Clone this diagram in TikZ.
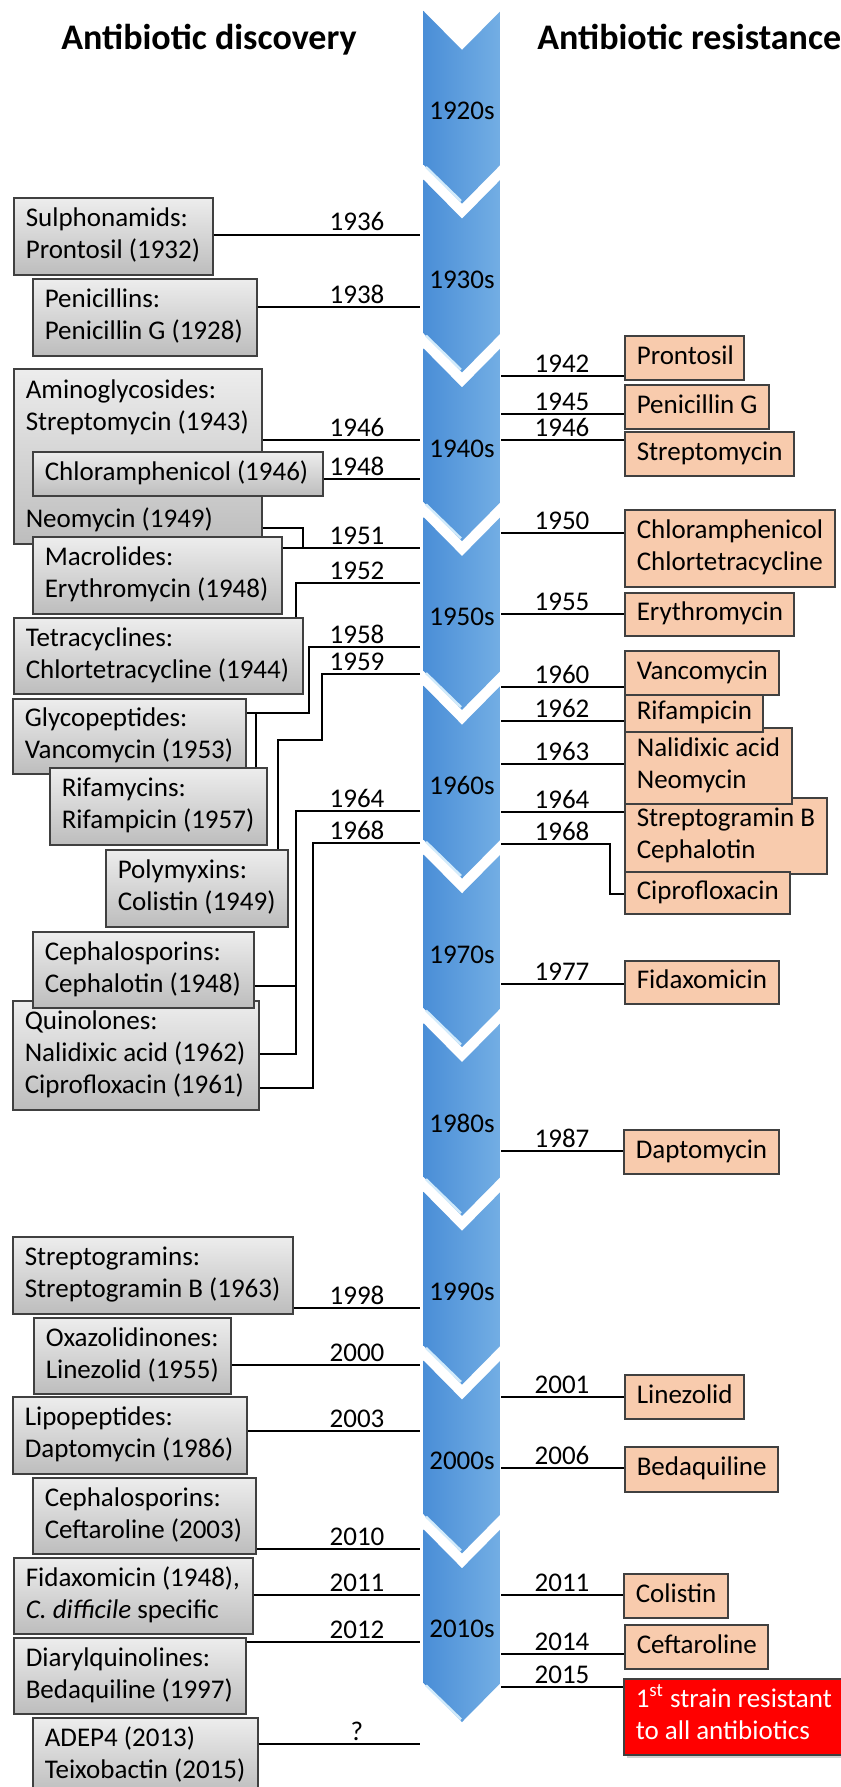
\documentclass[tikz,border=0pt]{standalone}
\usepackage{fontspec}
\setmainfont{Carlito}
\usetikzlibrary{shadows}
\definecolor{arrL}{HTML}{4A8ED7}
\definecolor{arrR}{HTML}{73AEE4}
\definecolor{bevelc}{HTML}{D2EBFB}
\definecolor{gtop}{HTML}{EDEDED}
\definecolor{gbot}{HTML}{BDBDBD}
\definecolor{orng}{HTML}{F8CBAD}
\definecolor{boxline}{HTML}{404040}
\definecolor{redbox}{HTML}{FF0000}
\newcommand{\bodyfont}{\fontsize{13.5}{16}\selectfont}
\newcommand{\hdrfont}{\fontsize{18}{22}\selectfont\bfseries}
\newcommand{\mybox}[7]{%
  \pgfmathsetmacro\mbw{(#5-#3)*0.5}%
  \pgfmathsetmacro\mbh{(#6-#4)*0.5}%
  \pgfmathsetmacro\mbt{(#5-#3)*0.5-12}%
  \node[#1, minimum width=\mbw pt, minimum height=\mbh pt] (#2) at (#3,#4) {\makebox[\mbt pt][l]{\begin{tabular}{@{}l@{}}#7\end{tabular}}};%
}
\tikzset{
  conn/.style={line width=1pt, black},
  gbox/.style={draw=boxline, line width=0.8pt, top color=gtop, bottom color=gbot, anchor=north west, inner xsep=6pt, inner ysep=0pt, font=\bodyfont},
  obox/.style={draw=boxline, line width=0.8pt, fill=orng, anchor=north west, inner xsep=6pt, inner ysep=0pt, font=\bodyfont},
  rbox/.style={draw=boxline, line width=0.8pt, fill=redbox, text=white, anchor=north west, inner xsep=6pt, inner ysep=0pt, font=\bodyfont, drop shadow={shadow xshift=1.5pt, shadow yshift=-1.5pt, opacity=0.35}},
  yr/.style={anchor=base, inner sep=0pt, font=\bodyfont},
  dec/.style={inner sep=0pt, font=\bodyfont},
  hdr/.style={anchor=base west, inner sep=0pt, font=\hdrfont},
  bevel/.style={draw=bevelc, line width=1.2pt},
}
\begin{document}
\begin{tikzpicture}[x=0.5pt, y=-0.5pt]
\useasboundingbox (0,0) rectangle (840,1787);
\fill[white] (0,0) rectangle (840,1787);

% headers
\node[hdr] (hL) at (61,50) {Antibiotic discovery};
\node[hdr] (hR) at (537,50) {Antibiotic resistance};

% chevron timeline
\foreach \i in {0,...,9}{
  \pgfmathsetmacro\T{11+168.7*\i}
  \path[left color=arrL, right color=arrR] (423.5,\T) -- (462,\T+39) -- (500.5,\T) -- (500.5,\T+153.7) -- (462,\T+192.7) -- (423.5,\T+153.7) -- cycle;
  \draw[bevel] (426,\T+156) -- (461,\T+190);
}
\foreach \i/\d in {0/1920s,1/1930s,2/1940s,3/1950s,4/1960s,5/1970s,6/1980s,7/1990s,8/2000s,9/2010s}{
  \node[dec] (dec\i) at (462,{111+168.7*\i}) {\d};
}

% ---------- left boxes (discovery) ----------
\mybox{gbox}{sulph}{13}{197}{212}{274}{Sulphonamids:\\Prontosil (1932)}
\mybox{gbox}{penic}{32}{278}{256}{355}{Penicillins:\\Penicillin G (1928)}
\mybox{gbox}{amino}{13}{368}{261}{543}{Aminoglycosides:\\Streptomycin (1943)\\[32.5pt]Neomycin (1949)}
\mybox{gbox}{chloram}{32}{451}{322}{495}{Chloramphenicol (1946)}
\mybox{gbox}{macro}{32}{536}{281}{613}{Macrolides:\\Erythromycin (1948)}
\mybox{gbox}{tetra}{13}{617}{302}{693}{Tetracyclines:\\Chlortetracycline (1944)}
\mybox{gbox}{glyco}{12}{698}{245}{773}{Glycopeptides:\\Vancomycin (1953)}
\mybox{gbox}{rifa}{49}{767}{266}{844}{Rifamycins:\\Rifampicin (1957)}
\mybox{gbox}{polym}{105}{849}{287}{926}{Polymyxins:\\Colistin (1949)}
\mybox{gbox}{quino}{12}{1000}{258}{1109}{Quinolones:\\Nalidixic acid (1962)\\Ciprofloxacin (1961)}
\mybox{gbox}{cephalo}{32}{931}{253}{1007}{Cephalosporins:\\Cephalotin (1948)}
\mybox{gbox}{strepg}{12}{1236}{292}{1313}{Streptogramins:\\Streptogramin B (1963)}
\mybox{gbox}{oxaz}{33}{1317}{230}{1393}{Oxazolidinones:\\Linezolid (1955)}
\mybox{gbox}{lipo}{12}{1396}{246}{1473}{Lipopeptides:\\Daptomycin (1986)}
\mybox{gbox}{ceftar}{32}{1477}{255}{1553}{Cephalosporins:\\Ceftaroline (2003)}
\mybox{gbox}{fidax}{13}{1557}{252}{1633}{Fidaxomicin (1948),\\\textit{C. difficile} specific}
\mybox{gbox}{diaryl}{13}{1637}{245}{1713}{Diarylquinolines:\\Bedaquiline (1997)}
\mybox{gbox}{adep}{32}{1717}{257}{1794}{ADEP4 (2013)\\Teixobactin (2015)}

% simple left connectors
\foreach \b/\y/\t in {sulph/235/1936, penic/307/1938, amino/440/1946, chloram/479/1948, macro/548/1951, strepg/1308/1998, oxaz/1365/2000, lipo/1431/2003, ceftar/1549/2010, fidax/1595/2011, diaryl/1642/2012, adep/1744/?}{
  \coordinate (aL-\b) at (420,\y);
  \draw[conn] (\b.east |- aL-\b) -- (aL-\b);
  \node[yr] (yL-\b) at (357,\y-4) {\t};
}
% neomycin elbow joining 1951
\coordinate (k1951) at (303,548);
\draw[conn] (amino.east |- 0,528) -| (k1951);
% 1952 -> tetracyclines
\coordinate (aL1952) at (420,583);
\coordinate (k1952) at (296,0);
\draw[conn] (aL1952) -| (k1952 |- tetra.north);
\node[yr] (yL1952) at (357,579) {1952};
% 1958 -> glycopeptides + rifamycins
\coordinate (aL1958) at (420,647);
\coordinate (k1958) at (309,713);
\coordinate (k1958b) at (256,713);
\draw[conn] (aL1958) -| (k1958) -- (glyco.east |- k1958);
\draw[conn] (k1958b) -- (k1958b |- rifa.north);
\node[yr] (yL1958) at (357,643) {1958};
% 1959 -> polymyxins
\coordinate (aL1959) at (420,674);
\coordinate (k1959) at (322,740);
\coordinate (k1959b) at (278,0);
\draw[conn] (aL1959) -| (k1959) -| (k1959b |- polym.north);
\node[yr] (yL1959) at (357,670) {1959};
% 1964 -> cephalotin + nalidixic acid
\coordinate (aL1964) at (420,811);
\coordinate (k1964) at (296,1054);
\coordinate (k1964b) at (296,986);
\draw[conn] (aL1964) -| (k1964) -- (quino.east |- k1964);
\draw[conn] (cephalo.east |- k1964b) -- (k1964b);
\node[yr] (yL1964) at (357,807) {1964};
% 1968 -> ciprofloxacin
\coordinate (aL1968) at (420,843);
\coordinate (k1968) at (313,1088);
\draw[conn] (aL1968) -| (k1968) -- (quino.east |- k1968);
\node[yr] (yL1968) at (357,839) {1968};

% ---------- right boxes (resistance) ----------
\mybox{obox}{pront}{624}{335}{743}{379}{Prontosil}
\mybox{obox}{penG}{624}{384}{768}{428}{Penicillin G}
\mybox{obox}{strepR}{624}{431}{793}{475}{Streptomycin}
\mybox{obox}{chlorR}{624}{509}{834}{586}{Chloramphenicol\\Chlortetracycline}
\mybox{obox}{ery}{624}{592}{793}{635}{Erythromycin}
\mybox{obox}{strB}{624}{797}{826}{873}{Streptogramin B\\Cephalotin}
\mybox{obox}{nalid}{624}{727}{791}{803}{Nalidixic acid\\Neomycin}
\mybox{obox}{rif}{624}{694}{762}{731}{Rifampicin}
\mybox{obox}{vanc}{624}{650}{778}{694}{Vancomycin}
\mybox{obox}{cipro}{624}{871}{789}{913}{Ciprofloxacin}
\mybox{obox}{fidR}{624}{960}{778}{1003}{Fidaxomicin}
\mybox{obox}{dapto}{623}{1129}{778}{1173}{Daptomycin}
\mybox{obox}{linez}{624}{1374}{743}{1418}{Linezolid}
\mybox{obox}{bedaq}{624}{1446}{777}{1491}{Bedaquiline}
\mybox{obox}{colis}{623}{1573}{727}{1617}{Colistin}
\mybox{obox}{ceftR}{624}{1624}{767}{1668}{Ceftaroline}
\mybox{rbox}{firstres}{623}{1678}{850}{1754}{1\textsuperscript{st} strain resistant\\to all antibiotics}

\foreach \b/\y/\t in {pront/376/1942, penG/414/1945, strepR/440/1946, chlorR/533/1950, ery/614/1955, vanc/687/1960, rif/721/1962, nalid/764/1963, strB/812/1964, fidR/984/1977, dapto/1151/1987, linez/1397/2001, bedaq/1468/2006, colis/1595/2011, ceftR/1654/2014, firstres/1687/2015}{
  \coordinate (aR-\b) at (501,\y);
  \draw[conn] (aR-\b) -- (\b.west |- aR-\b);
  \node[yr] (yR-\b) at (562,\y-4) {\t};
}
% 1968 -> ciprofloxacin (right)
\coordinate (aR1968) at (501,844);
\coordinate (kR1968) at (610,894);
\draw[conn] (aR1968) -| (kR1968) -- (cipro.west |- kR1968);
\node[yr] (yR1968) at (562,840) {1968};
\end{tikzpicture}
\end{document}
